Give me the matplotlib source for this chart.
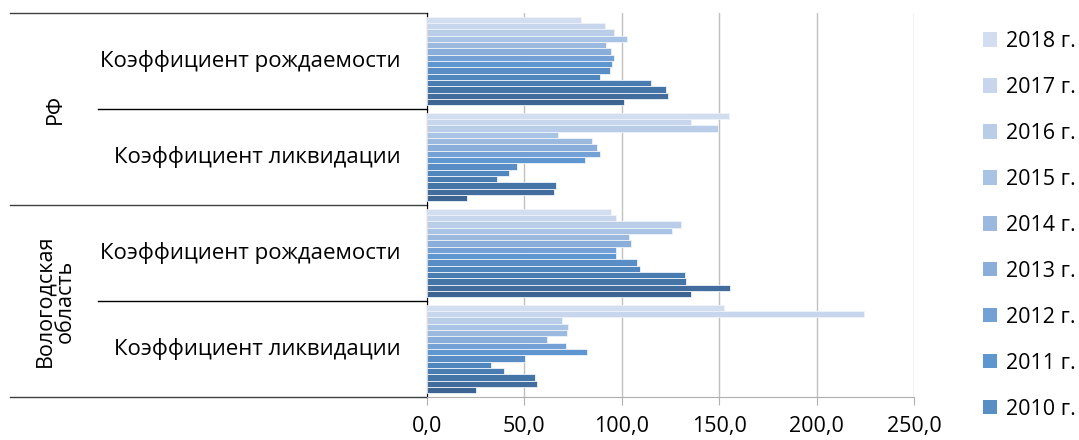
import numpy as np
import matplotlib
matplotlib.use("Agg")
import matplotlib.pyplot as plt
from matplotlib.patches import Patch
from matplotlib.transforms import blended_transform_factory
from matplotlib.ticker import FuncFormatter

plt.rcParams['font.family'] = ['Open Sans', 'DejaVu Sans']

# years listed top to bottom inside each group
years = [2018, 2017, 2016, 2015, 2014, 2013, 2012, 2011, 2010,
         2009, 2008, 2007, 2006, 2005]
year_colors = ['#d3ddf0', '#c7d6ec', '#b9cde8', '#a9c3e4', '#9bb9df', '#8badda', '#73a1d6',
               '#5e96d0', '#588dc6', '#4f86bd', '#497db2', '#4575a7', '#416c9b', '#3d6490']

regions = ["РФ", "Вологодская\nобласть"]
indicators = ["Коэффициент рождаемости", "Коэффициент ликвидации"]

rf_birth = [78.8, 91.3, 96.2, 102.7, 92.1, 94.5, 95.9, 95.0, 93.8, 88.7, 115.2, 122.6, 123.8, 101.0]
rf_liq = [155.1, 135.3, 149.3, 67.3, 84.8, 87.2, 89.0, 81.2, 46.2, 42.0, 35.8, 66.4, 65.1, 20.7]
vo_birth = [94.7, 96.9, 130.3, 125.7, 103.9, 104.8, 97.1, 97.1, 108.0, 109.4, 132.5, 133.0, 155.7, 135.3]
vo_liq = [152.7, 224.5, 69.3, 72.6, 71.7, 61.6, 71.1, 82.0, 50.5, 33.0, 39.7, 55.5, 56.3, 25.3]

groups = [rf_birth, rf_liq, vo_birth, vo_liq]
xticks = [0, 50, 100, 150, 200, 250]

W, H = 1079, 440
FS = 15.5
fig = plt.figure(figsize=(W / 100, H / 100), dpi=100)
ax = fig.add_axes([427 / W, 1 - 397 / H, (914 - 427) / W, (397 - 13) / H])

n = len(years)
bh = 0.92 / n
for g, vals in enumerate(groups):
    for i, v in enumerate(vals):
        y = g - 0.46 + bh * (i + 0.5)
        ax.barh(y, v, height=bh, color=year_colors[i], edgecolor='#eef3fa', linewidth=0.6, zorder=3)

ax.set_xlim(0, 250)
ax.set_ylim(3.5, -0.5)
ax.set_xticks(xticks)
ax.xaxis.set_major_formatter(FuncFormatter(lambda v, p: f"{v:.1f}".replace('.', ',')))
ax.grid(axis='x', color='#c0c0c0', linewidth=1.0, zorder=0)
ax.set_yticks([])
for s in ['top', 'right']:
    ax.spines[s].set_visible(False)
ax.spines['bottom'].set_color('#b0b0b0')
ax.spines['left'].set_color('black')
ax.tick_params(axis='x', length=6, color='#b0b0b0', labelsize=FS, pad=8)

# multi-level category axis
tr = blended_transform_factory(ax.transAxes, ax.transData)
x_out = (10 - 427) / 487
x_in = (98 - 427) / 487
for yb in [-0.5, 1.5, 3.5]:
    ax.plot([x_out, 0], [yb, yb], transform=tr, color='#404040', linewidth=1.0, clip_on=False)
for yb in [0.5, 2.5]:
    ax.plot([x_in, 0], [yb, yb], transform=tr, color='black', linewidth=1.0, clip_on=False)

x_lab = (401 - 427) / 487
for g in range(4):
    ax.text(x_lab, g, indicators[g % 2], transform=tr, ha='right', va='center', fontsize=16)
x_reg = (55 - 427) / 487
for r, name in enumerate(regions):
    ax.text(x_reg, 2 * r + 0.5, name, transform=tr, ha='center', va='center',
            rotation=90, fontsize=FS, linespacing=1.0)

# legend shows only the first nine years, as in the original
handles = [Patch(facecolor=year_colors[i], edgecolor='none') for i in range(9)]
labels = [f"{years[i]} г." for i in range(9)]
fig.legend(handles, labels, loc='upper left', bbox_to_anchor=(983 / W, 1 - 31 / H),
           frameon=False, fontsize=15.5, handlelength=0.65, handleheight=0.65,
           handletextpad=0.4, labelspacing=1.16, borderaxespad=0, borderpad=0)

fig.savefig("out.png", dpi=100)
